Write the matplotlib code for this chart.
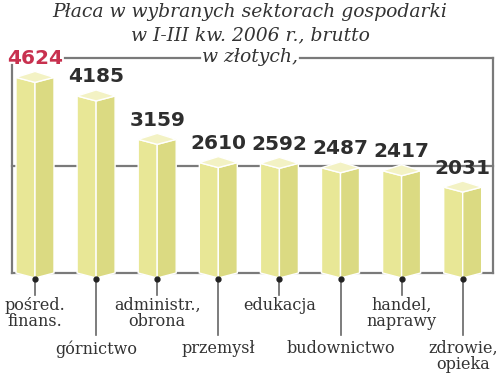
import matplotlib
matplotlib.use('Agg')
import matplotlib.pyplot as plt
from matplotlib.patches import Polygon

# data
sectors = ['pośred.\nfinans.', 'górnictwo', 'administr.,\nobrona', 'przemysł',
           'edukacja', 'budownictwo', 'handel,\nnaprawy', 'zdrowie,\nopieka']
values = [4624, 4185, 3159, 2610, 2592, 2487, 2417, 2031]

# layout: 1 px = 1/0.0423 zł vertically, bar pitch 61.1 px
PX = 1 / 0.0423
XPX = 1 / 61.1
y0px = 278
x0px = 35

fig = plt.figure(figsize=(5, 3.74), dpi=100)
ax = fig.add_axes([0, 0, 1, 1])
ax.set_xlim((0 - x0px) * XPX, (500 - x0px) * XPX)
ax.set_ylim((y0px - 374) * PX, (y0px - 0) * PX)
ax.axis('off')

def vy(py):
    return (y0px - py) * PX

def vx(px):
    return (px - x0px) * XPX

frame_c = '#7a7a7a'
left, right = vx(12), vx(493)
top, mid, bottom = vy(58), vy(166), vy(273)
ax.plot([left, left], [bottom, vy(65)], color=frame_c, lw=1.6, zorder=1)
ax.plot([right, right], [bottom, top], color=frame_c, lw=1.6, zorder=1)
ax.plot([vx(65), vx(200)], [top, top], color=frame_c, lw=1.6, zorder=1)
ax.plot([vx(300), right], [top, top], color=frame_c, lw=1.6, zorder=1)
ax.plot([left, right], [mid, mid], color=frame_c, lw=1.6, zorder=1)
ax.plot([left, right], [bottom, bottom], color=frame_c, lw=1.6, zorder=1)

w = 19 * XPX
side = 5 * PX
back = 11 * PX
for i, v in enumerate(values):
    lf = Polygon([(i - w, side), (i, 0), (i, v), (i - w, v + side)],
                 closed=True, facecolor='#e8e796', edgecolor='white', lw=1, zorder=3)
    rf = Polygon([(i, 0), (i + w, side), (i + w, v + side), (i, v)],
                 closed=True, facecolor='#dbda82', edgecolor='white', lw=1, zorder=3)
    tp = Polygon([(i, v), (i - w, v + side), (i, v + back), (i + w, v + side)],
                 closed=True, facecolor='#f3f2c4', edgecolor='white', lw=1, zorder=4)
    for p in (lf, rf, tp):
        ax.add_patch(p)

    col = '#c8314f' if i == 0 else '#2e2e2e'
    ax.annotate(str(v), xy=(i, v), xytext=(0, 24 * 0.72), textcoords='offset points',
                ha='center', va='center', fontsize=14.5, fontweight='bold', color=col,
                zorder=6)

    # connector and category label
    low = i % 2 == 1
    end = 335 if low else 295
    ax.plot([i, i], [vy(279), vy(end)], color='#666666', lw=1.2, zorder=5)
    ax.plot(i, vy(279), 'o', color='#222222', ms=3.5, zorder=6)
    ty = 340 if low else 297
    ax.text(i, vy(ty), sectors[i], ha='center', va='top', fontsize=11.5,
            family='DejaVu Serif', color='#333333', linespacing=0.95, zorder=6)

title_c = '#333333'
ax.text(vx(250), vy(12), 'Płaca w wybranych sektorach gospodarki', ha='center',
        va='center', fontsize=13.5, style='italic', family='DejaVu Serif', color=title_c)
ax.text(vx(250), vy(35), 'w I-III kw. 2006 r., brutto', ha='center',
        va='center', fontsize=13.5, style='italic', family='DejaVu Serif', color=title_c)
ax.text(vx(250), vy(57), 'w złotych,', ha='center',
        va='center', fontsize=13.5, style='italic', family='DejaVu Serif', color=title_c)

fig.savefig('out.png', dpi=100, facecolor='white')
